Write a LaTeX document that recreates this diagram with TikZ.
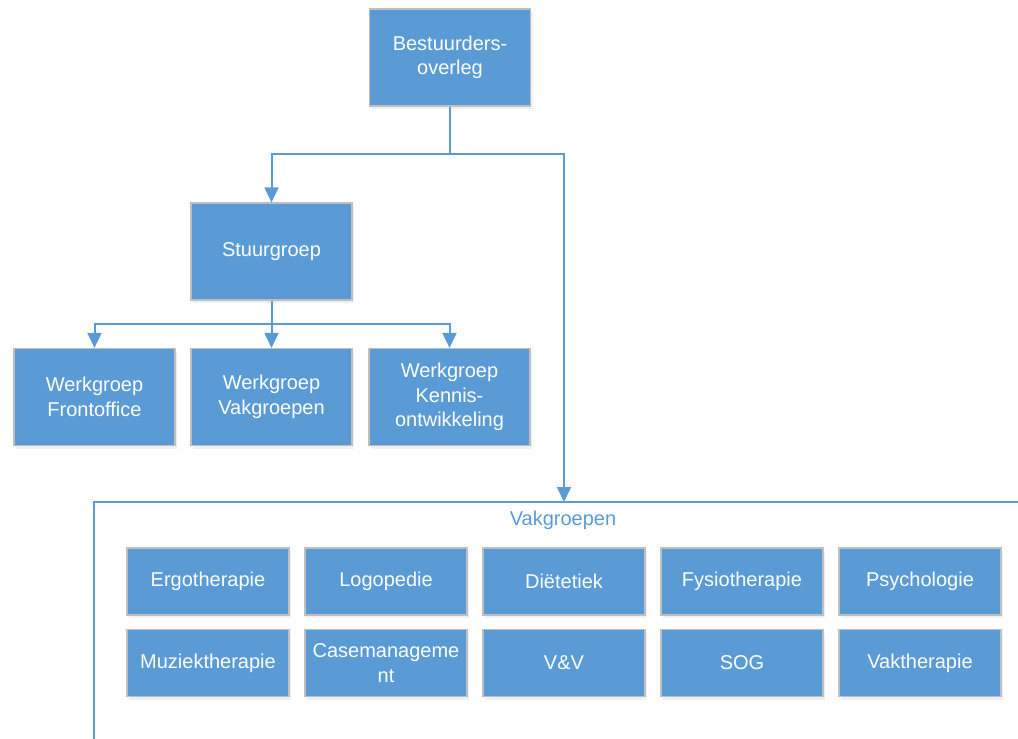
\documentclass[tikz,border=0pt]{standalone}
\usepackage{fontspec}
\setmainfont{Liberation Sans}
\usetikzlibrary{positioning,arrows.meta,shadows}

\definecolor{vakblauw}{HTML}{5B9BD5}
\definecolor{randgrijs}{HTML}{BFBFBF}

\begin{document}
\begin{tikzpicture}[x=1pt,y=-1pt,>={Triangle[length=15pt,width=14pt]},
	blok/.style={draw=randgrijs,line width=1.2pt,fill=vakblauw,text=white,
		minimum width=161pt,minimum height=97pt,align=center,inner sep=2pt,
		font=\fontsize{20}{24.5}\selectfont,
		drop shadow={opacity=0.12,shadow xshift=2pt,shadow yshift=-3pt}},
	vblok/.style={blok,minimum width=162pt,minimum height=67pt},
	lijn/.style={vakblauw,line width=2pt},
	pijl/.style={lijn,->}]
	\useasboundingbox (0,0) rectangle (1018,739);

	% container
	\draw[vakblauw,line width=1.4pt] (94,739) -- (94,502) -- (1018,502);
	\coordinate (vak) at (564,502);
	\node[text=vakblauw,font=\fontsize{20}{24}\selectfont] (vaklabel) at (563,520) {Vakgroepen};

	\node[blok] (best) at (450,57.5) {Bestuurders-\\overleg};
	\node[blok] (stuur) at (271.5,251.5) {Stuurgroep};
	\node[blok] (front) at (94.5,397) {Werkgroep\\Frontoffice};
	\node[blok] (wvak) at (271.5,397) {Werkgroep\\Vakgroepen};
	\node[blok] (kennis) at (449.5,397) {Werkgroep\\Kennis-\\ontwikkeling};

	\coordinate (split1) at (450,154);
	\coordinate (split2) at (271.5,324);
	\draw[lijn] (best) -- (split1);
	\draw[pijl] (split1) -| (stuur);
	\draw[pijl] (split1) -| (vak);
	\draw[lijn] (stuur) -- (split2);
	\draw[pijl] (split2) -| (front);
	\draw[pijl] (split2) -- (wvak);
	\draw[pijl] (split2) -| (kennis);

	% rij 1
	\node[vblok] (ergo) at (208,581.5) {Ergotherapie};
	\node[vblok] (logo) at (386,581.5) {Logopedie};
	\node[vblok] (diet) at (564,581.5) {Diëtetiek};
	\node[vblok] (fysio) at (742,581.5) {Fysiotherapie};
	\node[vblok] (psych) at (920,581.5) {Psychologie};
	% rij 2
	\node[vblok] (muziek) at (208,663) {Muziektherapie};
	\node[vblok] (case) at (386,663) {Casemanageme\\nt};
	\node[vblok] (venv) at (564,663) {V\&V};
	\node[vblok] (sog) at (742,663) {SOG};
	\node[vblok] (vakth) at (920,663) {Vaktherapie};
\end{tikzpicture}
\end{document}
